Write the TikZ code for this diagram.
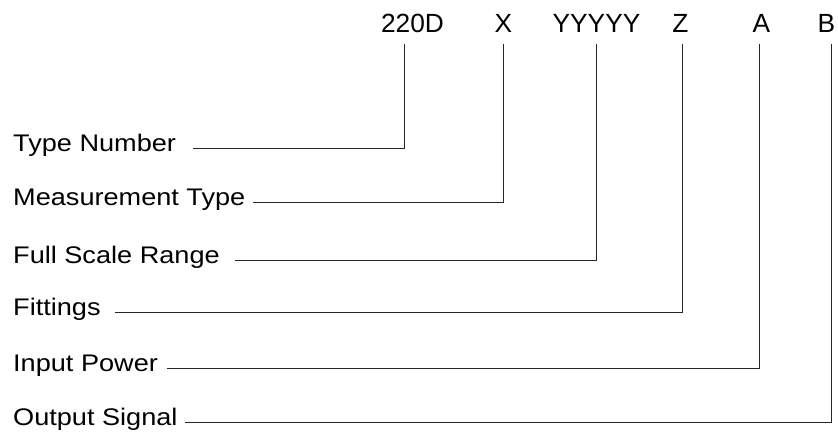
\documentclass[tikz,border=0pt]{standalone}
\usepackage{fontspec}
\setmainfont{Liberation Sans}
\begin{document}
\begin{tikzpicture}[x=1pt,y=-1pt,
  toplab/.style={anchor=base,inner sep=0pt,font=\fontsize{26.3}{30}\selectfont},
  rowlab/.style={anchor=base west,inner sep=0pt,font=\fontsize{24}{28}\selectfont},
  conn/.style={draw=black!85,line width=0.8pt}]
\useasboundingbox (0,0) rectangle (838,439);
% top code letters
\node[toplab] (t1) at (412.5,32.3) {220D};
\node[toplab] (t2) at (503.5,32.3) {X};
\node[toplab] (t3) at (596.5,32.3) {YYYYY};
\node[toplab] (t4) at (680.5,32.3) {Z};
\node[toplab] (t5) at (761.5,32.3) {A};
\node[toplab] (t6) at (826.5,32.3) {B};
% row labels
\node[rowlab] (r1) at (13,151.7) {\scalebox{1.13}[1]{Type Number}};
\node[rowlab] (r2) at (13,205.7) {\scalebox{1.13}[1]{Measurement Type}};
\node[rowlab] (r3) at (13,263.7) {\scalebox{1.13}[1]{Full Scale Range}};
\node[rowlab] (r4) at (13,315.7) {\scalebox{1.13}[1]{Fittings}};
\node[rowlab] (r5) at (13,371.7) {\scalebox{1.13}[1]{Input Power}};
\node[rowlab] (r6) at (13,425.7) {\scalebox{1.13}[1]{Output Signal}};
% connector ends
\coordinate (h1) at (193,148);
\coordinate (h2) at (253,202);
\coordinate (h3) at (235,260);
\coordinate (h4) at (115,312);
\coordinate (h5) at (167,368);
\coordinate (h6) at (185,422);
\coordinate (v1) at (404,44);
\coordinate (v2) at (503,44);
\coordinate (v3) at (596,44);
\coordinate (v4) at (682,44);
\coordinate (v5) at (759,44);
\coordinate (v6) at (831,44);
\foreach \i in {1,...,6}{\draw[conn] (h\i) -| (v\i);}
\end{tikzpicture}
\end{document}
